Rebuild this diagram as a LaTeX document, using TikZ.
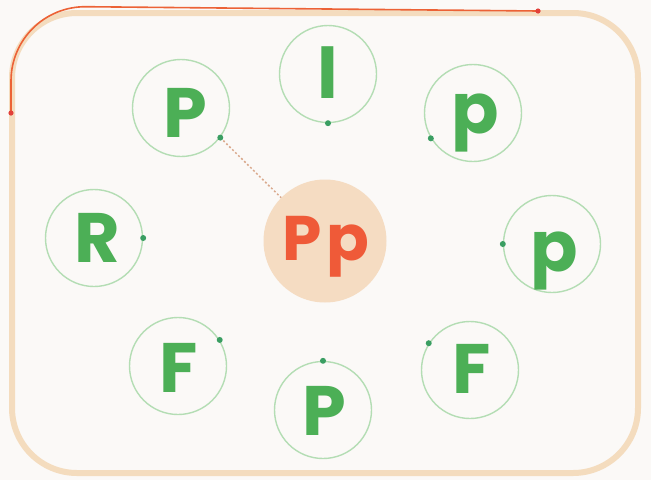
\documentclass[tikz,border=0pt]{standalone}
\usepackage{fontspec}
\newfontfamily\pop{Poppins}
\definecolor{bgc}{HTML}{FBF9F7}
\definecolor{framec}{HTML}{F4DCBE}
\definecolor{orangec}{HTML}{EC6236}
\definecolor{redc}{HTML}{E2403A}
\definecolor{ringc}{HTML}{B4DDB4}
\definecolor{lettc}{HTML}{4CAF56}
\definecolor{dotc}{HTML}{3A9E62}
\definecolor{peach}{HTML}{F5DCC2}
\definecolor{ppc}{HTML}{EF5A38}
\definecolor{linkc}{HTML}{D9A98C}
\begin{document}
\begin{tikzpicture}[x=1pt,y=-1pt,
  ring/.style={circle, draw=ringc, line width=1.4pt, minimum size=97pt, inner sep=0pt},
  letter/.style={anchor=base, text=lettc, inner sep=0pt, font=\pop\bfseries\fontsize{70}{70}\selectfont},
  centre/.style={circle, fill=peach, minimum size=123pt, inner sep=0pt},
  link/.style={draw=linkc, line width=1.5pt, dash pattern=on 2pt off 2.2pt},
  frame/.style={draw=framec, line width=6pt, rounded corners=65pt}]
\fill[bgc] (0,0) rectangle (651,480);
\useasboundingbox (0,0) rectangle (651,480);
\draw[frame] (12,13) rectangle (638,473);
% orange line along the top-left
\coordinate (oa) at (11,113);
\coordinate (ob) at (538,11);
\draw[orangec, line width=1.6pt, rounded corners=75pt] (oa) -- (11,6) -- (ob);
\fill[redc] (oa) circle (2.6);
\fill[redc] (ob) circle (2.6);
% centre
\node[centre] (ctr) at (325,241) {};
\node[anchor=base, text=ppc, inner sep=0pt, font=\pop\bfseries\fontsize{63}{63}\selectfont] (pp) at (326,260) {P\hspace{4pt}p};
% rings
\node[ring] (cA) at (181,108) {};
\node[ring] (cB) at (328,74) {};
\node[ring] (cC) at (473,113) {};
\node[ring] (cD) at (94,238) {};
\node[ring] (cE) at (552,244) {};
\node[ring] (cF) at (178,366) {};
\node[ring] (cG) at (323,410) {};
\node[ring] (cH) at (470,370) {};
% letters
\node[letter] (tA) at (185,137) {P};
\node[letter] (tB) at (328,98) {l};
\node[letter] (tC) at (475,133) {p};
\node[letter] (tD) at (97,262) {R};
\node[letter] (tE) at (554,271) {p};
\node[letter] (tF) at (179,392) {F};
\node[letter] (tG) at (324,435) {P};
\node[letter] (tH) at (472,393) {F};
% dots
\coordinate (dA) at (cA.-37);
\coordinate (dB) at (cB.-90);
\coordinate (dC) at (cC.211);
\coordinate (dD) at (cD.0);
\coordinate (dE) at (cE.180);
\coordinate (dF) at (cF.32);
\coordinate (dG) at (cG.90);
\coordinate (dH) at (cH.147);
\draw[link] (dA) -- (ctr);
\foreach \d in {dA,dB,dC,dD,dE,dF,dG,dH} \fill[dotc] (\d) circle (3);
\end{tikzpicture}
\end{document}
